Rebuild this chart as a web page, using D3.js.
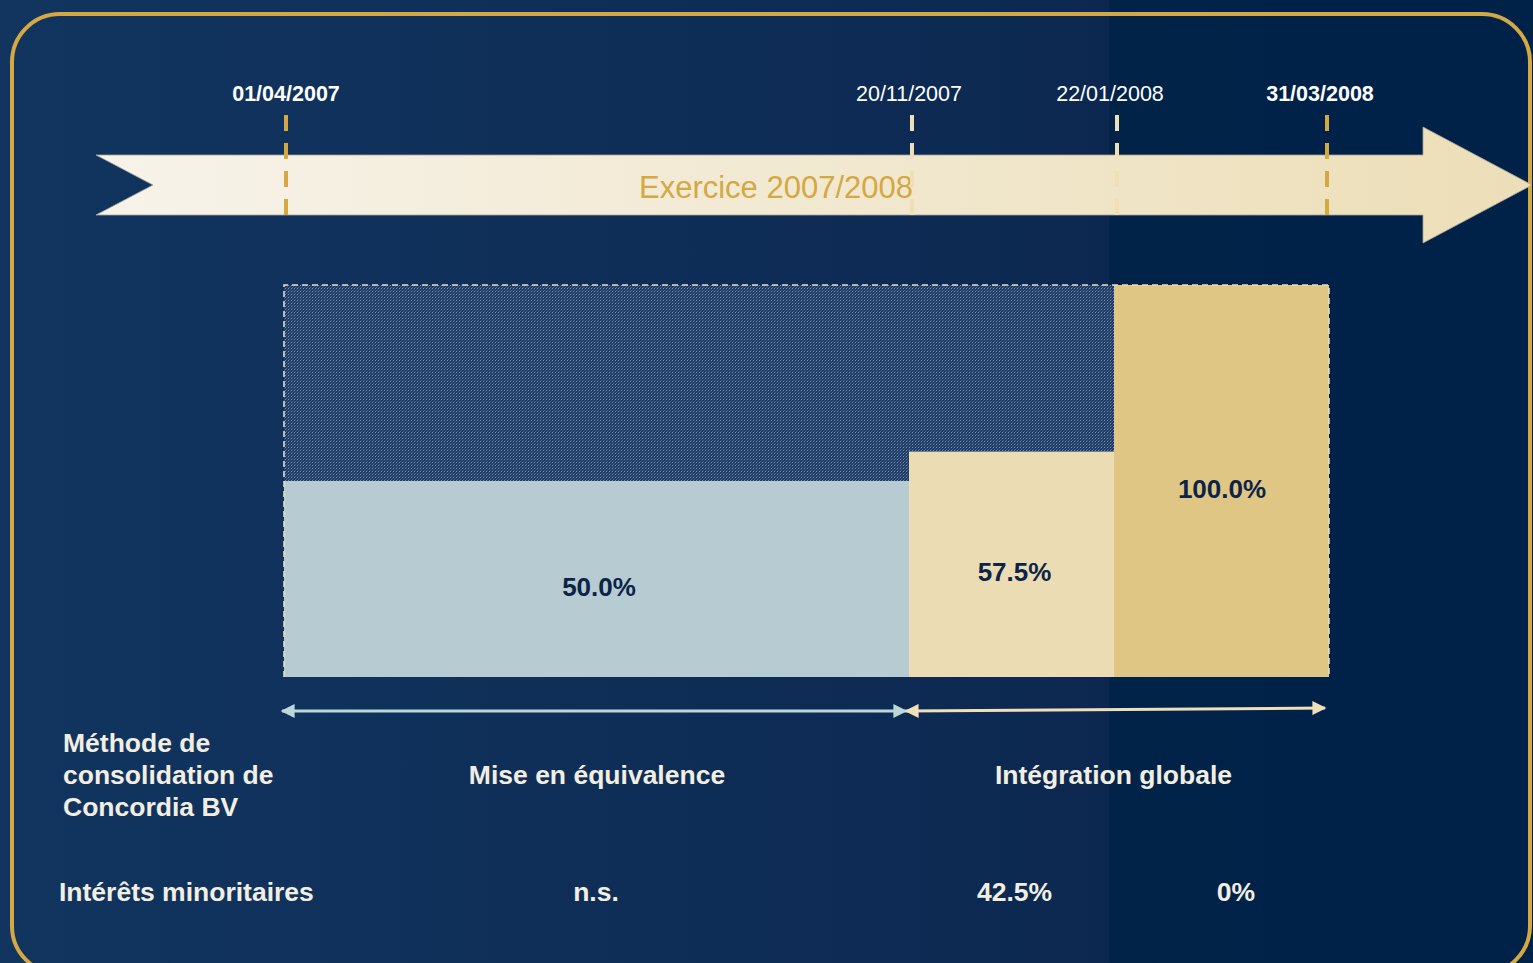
<html>
<head>
    <script src="https://d3js.org/d3.v7.min.js"></script>
    <style>
        body { margin: 0; background: #0f315b; }
        svg { display: block; }
    </style>
</head>
<body>

<svg width="1533" height="963"></svg>

<script>
    // key dates on the timeline
    const dates = ["2007-04-01", "2007-11-20", "2008-01-22", "2008-03-31"].map(d3.timeParse("%Y-%m-%d"));
    const dateLabels = ["01/04/2007", "20/11/2007", "22/01/2008", "31/03/2008"];

    // share held in Concordia BV over each period (start index, end index)
    const periods = [[0, 1], [1, 2], [2, 3]];
    const shares = [50.0, 57.5, 100.0];
    const shareColors = ["#b6cbd2", "#ecdcb4", "#e0c684"];

    // consolidation method, spanning dates
    const methods = ["Mise en équivalence", "Intégration globale"];
    const methodSpans = [[0, 1], [1, 3]];

    // minority interests per period
    const minority = ["n.s.", "42.5%", "0%"];

    const title = "Exercice 2007/2008";

    const font = "'Liberation Sans', Arial, sans-serif";
    const cream = "#f3eee2";
    const gold = "#d4a843";

    const svg = d3.select("svg");
    const defs = svg.append("defs");

    // background
    const bg = defs.append("linearGradient").attr("id", "bg")
        .attr("gradientUnits", "userSpaceOnUse").attr("x1", 0).attr("x2", 1533).attr("y1", 0).attr("y2", 0);
    bg.append("stop").attr("offset", 0).attr("stop-color", "#11355f");
    bg.append("stop").attr("offset", 0.723).attr("stop-color", "#0c2851");
    bg.append("stop").attr("offset", 0.724).attr("stop-color", "#022348");
    bg.append("stop").attr("offset", 1).attr("stop-color", "#002148");
    svg.append("rect").attr("width", 1533).attr("height", 963).attr("fill", "url(#bg)");

    // frame
    svg.append("rect")
        .attr("x", 12).attr("y", 14).attr("width", 1518).attr("height", 960)
        .attr("rx", 48).attr("fill", "none").attr("stroke", gold).attr("stroke-width", 4);

    const x = d3.scaleTime()
        .domain(dates)
        .range([286, 912, 1117, 1327]);

    const y = d3.scaleLinear()
        .domain([0, 100])
        .range([677, 285]);

    // timeline arrow
    const band = defs.append("linearGradient").attr("id", "band")
        .attr("gradientUnits", "userSpaceOnUse").attr("x1", 96).attr("x2", 1532).attr("y1", 0).attr("y2", 0);
    band.append("stop").attr("offset", 0).attr("stop-color", "#f7f3ea");
    band.append("stop").attr("offset", 1).attr("stop-color", "#ecdeb7");

    svg.append("path")
        .attr("d", "M96,155 L1423,155 L1423,127 L1532,185 L1423,243 L1423,215 L96,215 L153,185 Z")
        .attr("fill", "url(#band)")
        .attr("stroke", "#a8a493").attr("stroke-width", 0.8);

    svg.append("text")
        .attr("x", 776).attr("y", 187)
        .attr("text-anchor", "middle").attr("dominant-baseline", "central")
        .attr("font-family", font).attr("font-size", 31)
        .attr("fill", gold)
        .text(title);

    const isEdge = i => i === 0 || i === dates.length - 1;

    svg.append("g")
        .selectAll("line")
        .data(dates)
        .join("line")
        .attr("x1", d => x(d)).attr("x2", d => x(d))
        .attr("y1", 215).attr("y2", 115)
        .attr("stroke", (d, i) => isEdge(i) ? gold : "#eedfb8")
        .attr("stroke-width", 4)
        .attr("stroke-dasharray", "16,12");

    svg.append("g")
        .selectAll("text")
        .data(dates)
        .join("text")
        .attr("x", (d, i) => x(d) - (i === 0 ? 0 : i === 1 ? 3 : 7))
        .attr("y", 94)
        .attr("text-anchor", "middle").attr("dominant-baseline", "central")
        .attr("font-family", font).attr("font-size", 21.5)
        .attr("font-weight", (d, i) => isEdge(i) ? "bold" : "normal")
        .attr("fill", "#ffffff")
        .text((d, i) => dateLabels[i]);

    // hatched pattern for the part not yet held
    const pat = defs.append("pattern").attr("id", "hatch")
        .attr("patternUnits", "userSpaceOnUse").attr("width", 3).attr("height", 3);
    pat.append("rect").attr("width", 3).attr("height", 3).attr("fill", "#1c3b65");
    pat.append("rect").attr("width", 1).attr("height", 1).attr("fill", "#7a91b0");
    pat.append("rect").attr("x", 1).attr("y", 2).attr("width", 1).attr("height", 1).attr("fill", "#4d6890");
    pat.append("rect").attr("x", 2).attr("y", 1).attr("width", 1).attr("height", 1).attr("fill", "#3a5680");

    svg.append("rect")
        .attr("x", x(dates[0]) - 2)
        .attr("y", y(100))
        .attr("width", x(dates[2]) - x(dates[0]) + 2)
        .attr("height", y(0) - y(100))
        .attr("fill", "url(#hatch)");

    // share bars
    svg.append("g")
        .selectAll("rect")
        .data(shares)
        .join("rect")
        .attr("x", (d, i) => x(dates[periods[i][0]]) - (i === 0 ? 2 : 3))
        .attr("y", d => y(d))
        .attr("width", (d, i) => x(dates[periods[i][1]]) - x(dates[periods[i][0]]) + (i === 2 ? 5 : 0))
        .attr("height", d => y(0) - y(d))
        .attr("fill", (d, i) => shareColors[i]);

    // dashed outline of the 100% block
    const x0 = x(dates[0]) - 2, x1 = x(dates[3]) + 2;
    svg.append("path")
        .attr("d", `M${x0},${y(0)} L${x0},${y(100)} L${x1},${y(100)} L${x1},${y(0)}`)
        .attr("fill", "none")
        .attr("stroke", "#e6dcc3").attr("stroke-width", 1.6)
        .attr("stroke-dasharray", "6,4");

    svg.append("g")
        .selectAll("text")
        .data(shares)
        .join("text")
        .attr("x", (d, i) => (x(dates[periods[i][0]]) + x(dates[periods[i][1]])) / 2)
        .attr("y", d => (y(d) + y(0)) / 2 + 8)
        .attr("text-anchor", "middle").attr("dominant-baseline", "central")
        .attr("font-family", font).attr("font-size", 26).attr("font-weight", "bold")
        .attr("fill", "#0c2448")
        .text(d => d.toFixed(1) + "%");

    // method span arrows
    const arrowColors = ["#b9d8d9", "#efe0b9"];
    arrowColors.forEach((c, i) => {
        const m = defs.append("marker").attr("id", "arr" + i)
            .attr("viewBox", "0 0 10 10").attr("refX", 9).attr("refY", 5)
            .attr("markerUnits", "userSpaceOnUse")
            .attr("markerWidth", 16).attr("markerHeight", 14)
            .attr("orient", "auto-start-reverse");
        m.append("path").attr("d", "M0,0 L10,5 L0,10 Z").attr("fill", c);
    });

    svg.append("g")
        .selectAll("line")
        .data(methodSpans)
        .join("line")
        .attr("x1", (d, i) => x(dates[d[0]]) + (i === 0 ? -4 : -6))
        .attr("x2", (d, i) => x(dates[d[1]]) + (i === 0 ? -6 : -2))
        .attr("y1", 711).attr("y2", (d, i) => i === 0 ? 711 : 708)
        .attr("stroke", (d, i) => arrowColors[i])
        .attr("stroke-width", 3)
        .attr("marker-start", (d, i) => `url(#arr${i})`)
        .attr("marker-end", (d, i) => `url(#arr${i})`);

    // row labels
    const labels = svg.append("g")
        .attr("font-family", font).attr("font-size", 26.5).attr("font-weight", "bold")
        .attr("fill", cream);

    labels.append("text")
        .attr("x", 63).attr("y", 743)
        .attr("dominant-baseline", "central")
        .selectAll("tspan")
        .data(["Méthode de", "consolidation de", "Concordia BV"])
        .join("tspan")
        .attr("x", 63)
        .attr("dy", (d, i) => i === 0 ? 0 : 32)
        .text(d => d);

    labels.append("g")
        .selectAll("text")
        .data(methods)
        .join("text")
        .attr("x", (d, i) => (x(dates[methodSpans[i][0]]) + x(dates[methodSpans[i][1]])) / 2 - (i === 0 ? 2 : 6))
        .attr("y", 775)
        .attr("text-anchor", "middle").attr("dominant-baseline", "central")
        .text(d => d);

    labels.append("text")
        .attr("x", 59).attr("y", 892)
        .attr("dominant-baseline", "central")
        .text("Intérêts minoritaires");

    labels.append("g")
        .selectAll("text")
        .data(minority)
        .join("text")
        .attr("x", (d, i) => (x(dates[periods[i][0]]) + x(dates[periods[i][1]])) / 2 + (i === 0 ? -3 : i === 2 ? 14 : 0))
        .attr("y", 892)
        .attr("text-anchor", "middle").attr("dominant-baseline", "central")
        .text(d => d);
</script>

</body>
</html>
